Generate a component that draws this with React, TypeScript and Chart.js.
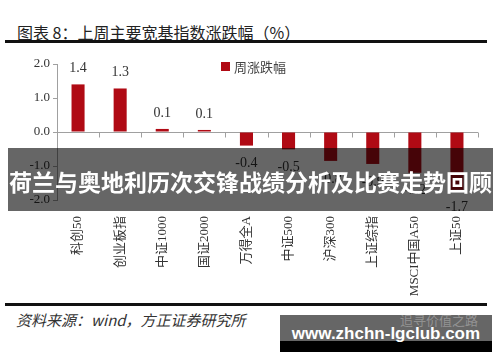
import React, { useEffect, useRef } from "react";
import { Chart, registerables } from "chart.js";

Chart.register(...registerables);

const categories = ["科创50", "创业板指", "中证1000", "国证2000", "万得全A", "中证500", "沪深300", "上证综指", "MSCI中国A50", "上证50"];
const weeklyChange = [1.4, 1.28, 0.09, 0.06, -0.4, -0.51, -0.85, -0.94, -1.2, -1.7];
const valueLabels = ["1.4", "1.3", "0.1", "0.1", "-0.4", "-0.5", "-0.8", "-0.9", "-1.2", "-1.7"];
const seriesName = "周涨跌幅";
const yMin = -2;
const yMax = 2;
const yStep = 0.5;

const TITLE = "图表 8：上周主要宽基指数涨跌幅（%）";
const SOURCE = "资料来源：wind，方正证券研究所";
const BANNER = "荷兰与奥地利历次交锋战绩分析及比赛走势回顾";
const WATERMARK = "www.zhchn-lgclub.com";
const WATERMARK_FAINT = "追寻价值之路";

const BAR_COLOR = "#B00A14";
const SERIF = "'Liberation Serif', 'Noto Sans CJK SC', serif";

const extrasPlugin = {
  id: "extras",
  beforeDatasetsDraw(chart: any) {
    const ctx = chart.ctx;
    const x = chart.scales.x;
    const y = chart.scales.y;
    const y0 = y.getPixelForValue(0);
    ctx.save();
    ctx.strokeStyle = "#a0a0a0";
    ctx.lineWidth = 1;
    ctx.beginPath();
    ctx.moveTo(chart.chartArea.left, Math.round(y0) + 0.5);
    ctx.lineTo(chart.chartArea.right, Math.round(y0) + 0.5);
    const n = categories.length;
    const w = (chart.chartArea.right - chart.chartArea.left) / n;
    for (let i = 1; i <= n; i++) {
      const px = Math.round(x.getPixelForValue(i - 1) + w / 2) + 0.5;
      ctx.moveTo(px, Math.round(y0) + 0.5);
      ctx.lineTo(px, Math.round(y0) + 5.5);
    }
    ctx.stroke();
    ctx.restore();
  },
  afterDatasetsDraw(chart: any) {
    const ctx = chart.ctx;
    const meta = chart.getDatasetMeta(0);
    ctx.save();
    ctx.font = `14px ${SERIF}`;
    ctx.fillStyle = "#333";
    ctx.textAlign = "center";
    ctx.textBaseline = "middle";
    meta.data.forEach((bar: any, i: number) => {
      const v = weeklyChange[i];
      const yy = v >= 0 ? bar.y - 16 : bar.y + 18;
      ctx.fillText(valueLabels[i], bar.x, yy);
    });
    // legend
    const lx = 221;
    const ly = 17;
    ctx.fillStyle = BAR_COLOR;
    ctx.fillRect(lx, ly, 9, 9);
    ctx.fillStyle = "#444";
    ctx.font = "13px 'Noto Sans CJK SC', sans-serif";
    ctx.textAlign = "left";
    ctx.textBaseline = "middle";
    ctx.fillText(chart.data.datasets[0].label, lx + 13, ly + 5);
    ctx.restore();
  },
};

export default function App() {
  const ref = useRef<HTMLCanvasElement | null>(null);
  useEffect(() => {
    document.body.style.margin = "0";
    document.body.style.background = "#fff";
    if (!ref.current) return;
    const chart = new Chart(ref.current, {
      type: "bar",
      data: {
        labels: categories,
        datasets: [
          {
            label: seriesName,
            data: weeklyChange,
            backgroundColor: BAR_COLOR,
            categoryPercentage: 1,
            barPercentage: 0.31,
          },
        ],
      },
      options: {
        responsive: false,
        animation: false,
        layout: { padding: { left: 0, right: 22, top: 19, bottom: 0 } },
        plugins: { legend: { display: false }, tooltip: { enabled: false } },
        scales: {
          x: {
            grid: { display: false },
            border: { display: false },
            ticks: {
              autoSkip: false,
              minRotation: 90,
              maxRotation: 90,
              padding: 8,
              color: "#333",
              font: { family: SERIF, size: 13 },
            },
            afterFit(scale: any) {
              scale.height = 103;
            },
          },
          y: {
            min: yMin,
            max: yMax,
            ticks: {
              stepSize: yStep,
              padding: 3,
              color: "#333",
              font: { family: SERIF, size: 13 },
              callback: (v: any) => Number(v).toFixed(1),
            },
            grid: { drawOnChartArea: false, tickLength: 4, color: "#a0a0a0" },
            border: { display: true, color: "#a0a0a0" },
            afterFit(scale: any) {
              scale.width = 57;
            },
          },
        },
      },
      plugins: [extrasPlugin],
    });
    return () => chart.destroy();
  }, []);

  return (
    <div style={{ position: "relative", width: 500, height: 362, background: "#fff", overflow: "hidden" }}>
      <div
        style={{
          position: "absolute",
          left: 17,
          top: 21,
          fontFamily: "'Noto Sans CJK SC', sans-serif",
          fontSize: 16,
          color: "#222",
          whiteSpace: "nowrap",
          lineHeight: "22px",
        }}
      >
        {TITLE}
      </div>
      <div style={{ position: "absolute", left: 5, top: 40, width: 482, height: 3, background: "#111" }} />
      <canvas ref={ref} width={500} height={258} style={{ position: "absolute", left: 0, top: 45, width: 500, height: 258 }} />
      <div style={{ position: "absolute", left: 5, top: 303, width: 482, height: 3, background: "#111" }} />
      <div
        style={{
          position: "absolute",
          left: 16,
          top: 310,
          fontFamily: "'Noto Sans CJK SC', sans-serif",
          fontStyle: "italic",
          fontSize: 15,
          color: "#333",
          whiteSpace: "nowrap",
          lineHeight: "20px",
        }}
      >
        {SOURCE}
      </div>
      <div
        style={{
          position: "absolute",
          left: 8,
          top: 148,
          width: 485,
          height: 63,
          background: "rgba(0,0,0,0.6)",
          color: "#fff",
          fontFamily: "'Noto Sans CJK SC', sans-serif",
          fontWeight: 700,
          fontSize: 23,
          lineHeight: "66px",
          textAlign: "center",
          whiteSpace: "nowrap",
          overflow: "hidden",
        }}
      >
        {BANNER}
      </div>
      <div style={{ position: "absolute", left: 280, top: 315, width: 212, height: 26, background: "rgba(0,0,0,0.6)" }} />
      <div style={{ position: "absolute", left: 280, top: 341, width: 212, height: 11, background: "#000" }} />
      <div
        style={{
          position: "absolute",
          left: 400,
          top: 312,
          fontFamily: "'Noto Sans CJK SC', sans-serif",
          fontSize: 13,
          color: "rgba(255,255,255,0.3)",
          whiteSpace: "nowrap",
          lineHeight: "16px",
        }}
      >
        {WATERMARK_FAINT}
      </div>
      <div
        style={{
          position: "absolute",
          left: 280,
          top: 321,
          width: 212,
          textAlign: "center",
          fontFamily: "'Liberation Sans', Arial, sans-serif",
          fontWeight: 700,
          fontSize: 17,
          color: "#fff",
          whiteSpace: "nowrap",
          lineHeight: "26px",
        }}
      >
        {WATERMARK}
      </div>
    </div>
  );
}
